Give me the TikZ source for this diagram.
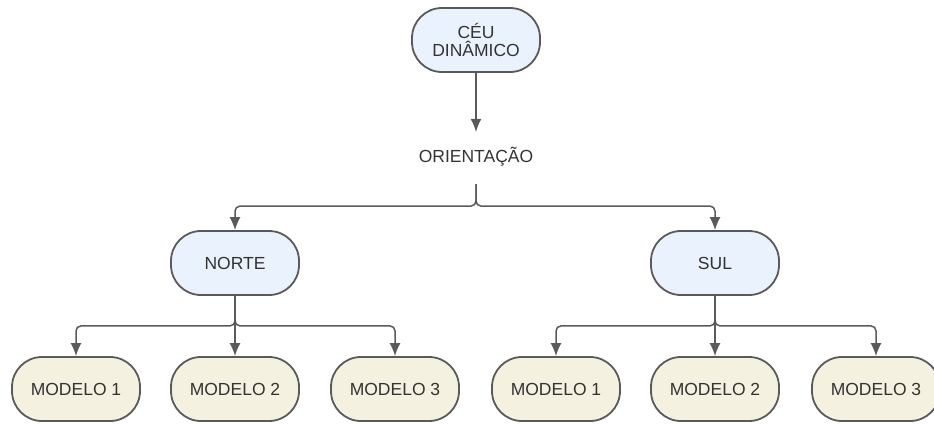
\documentclass[tikz,border=0pt]{standalone}
\usepackage{fontspec}
\setmainfont{Liberation Sans}
\usepackage[dvipsnames]{xcolor}
\usetikzlibrary{positioning,arrows.meta}

\definecolor{boxline}{HTML}{5A5A5A}
\definecolor{skyfill}{HTML}{EAF2FD}
\definecolor{sandfill}{HTML}{F5F1E1}

\begin{document}
\begin{tikzpicture}[
  x=1pt, y=-1pt,
  every node/.style={font=\fontsize{17.5}{20}\selectfont, text=black!80},
  topbox/.style={draw=boxline, line width=1.8pt, rounded corners=30pt,
    minimum width=128pt, minimum height=64pt, align=center, fill=skyfill},
  modelbox/.style={topbox, fill=sandfill},
  conn/.style={draw=boxline, line width=1.5pt, rounded corners=5pt,
    -{Latex[length=13pt,width=11pt]}}
]
\useasboundingbox (0,0) rectangle (934,423);

\node[topbox] (ceu) at (476,40) {CÉU\\[-2pt]DINÂMICO};
\node (ori) at (476,157) {ORIENTAÇÃO};

\node[topbox] (norte) at (235,263) {NORTE};
\node[topbox] (sul) at (715,263) {SUL};

\node[modelbox] (n1) at (76,389) {MODELO 1};
\node[modelbox] (n2) at (235,389) {MODELO 2};
\node[modelbox] (n3) at (395,389) {MODELO 3};
\node[modelbox] (s1) at (556,389) {MODELO 1};
\node[modelbox] (s2) at (715,389) {MODELO 2};
\node[modelbox] (s3) at (876,389) {MODELO 3};

% arrows
\draw[conn] (ceu) -- ([yshift=12pt]ori.north);
\draw[conn] ([yshift=-14pt]ori.south) -- ++(0,22) -| (norte);
\draw[conn] ([yshift=-14pt]ori.south) -- ++(0,22) -| (sul);

\foreach \m in {n1,n3}
  \draw[conn] (norte.south) -- ++(0,30) -| (\m);
\draw[conn] (norte) -- (n2);
\foreach \m in {s1,s3}
  \draw[conn] (sul.south) -- ++(0,30) -| (\m);
\draw[conn] (sul) -- (s2);
\end{tikzpicture}
\end{document}
